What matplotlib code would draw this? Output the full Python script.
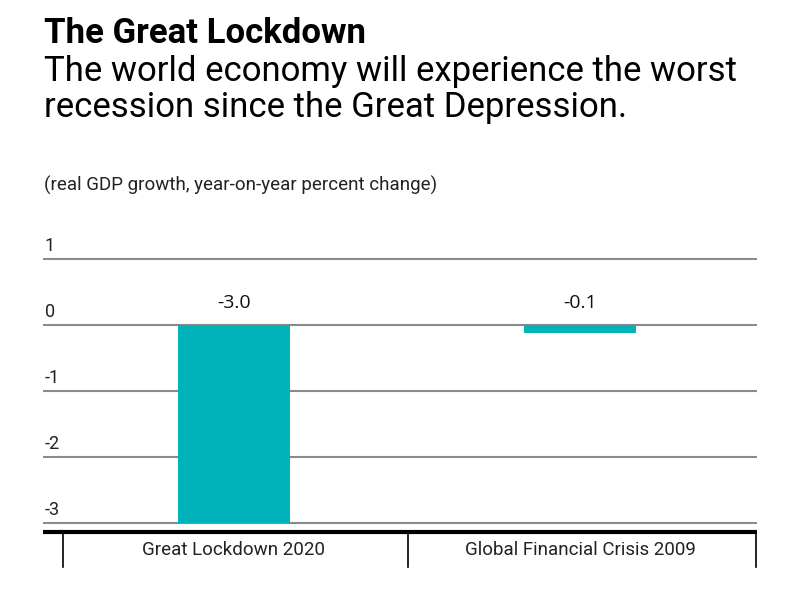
import matplotlib
matplotlib.use("Agg")
import matplotlib.pyplot as plt

categories = ["Great Lockdown 2020", "Global Financial Crisis 2009"]
values = [-3.0, -0.12]
value_labels = ["-3.0", "-0.1"]
yticks = [1, 0, -1, -2, -3]

plt.rcParams['font.family'] = ['Roboto', 'DejaVu Sans']

fig = plt.figure(figsize=(8, 6), dpi=100)
ax = fig.add_axes([43/800, 0.0513, 714/800, 0.55])
ax.set_xlim(-0.55, 1.51)
ax.set_ylim(-3.7, 1.3)
ax.axis('off')

for t in yticks:
    ax.axhline(t, color='#8a8a8a', lw=1.5, xmin=0, xmax=(1.507+0.55)/2.06, zorder=1)
    ax.text(-0.545, t + 0.06, str(t), ha='left', va='bottom', fontsize=13, color='#222222')

x = list(range(len(categories)))
ax.bar(x, values, width=0.323, color='#00B2BA', zorder=2)
for xi, lab in zip(x, value_labels):
    ax.text(xi, 0.2, lab, ha='center', va='bottom', fontsize=14,
            family=['Open Sans', 'DejaVu Sans'], color='#111111')

ax.plot([-0.55, 1.51], [-3.136, -3.136], color='black', lw=3, clip_on=False, solid_capstyle='butt')
for sx in [-0.493, 0.503, 1.507]:
    ax.plot([sx, sx], [-3.136, -3.667], color='black', lw=1.2, clip_on=False)
for xi, c in zip(x, categories):
    ax.text(xi, -3.41, c, ha='center', va='center', fontsize=13.5, color='#222222')

fig.text(44/800, 1 - 17/600, "The Great Lockdown", ha='left', va='top', fontsize=25,
         fontweight='bold', color='black')
fig.text(44/800, 1 - 55/600, "The world economy will experience the worst\nrecession since the Great Depression.",
         ha='left', va='top', fontsize=25, color='black', linespacing=1.12)
fig.text(44/800, 1 - 185/600, "(real GDP growth, year-on-year percent change)", ha='left', va='center',
         fontsize=13.5, color='#222222')

fig.savefig("out.png", dpi=100, facecolor='white')
